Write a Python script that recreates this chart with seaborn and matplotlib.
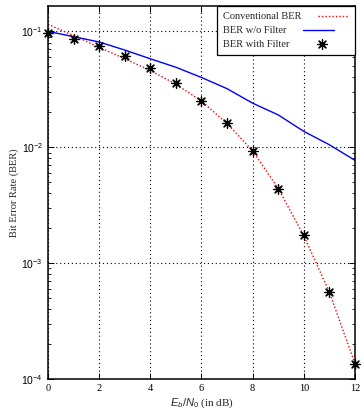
import matplotlib
matplotlib.use("Agg")
import matplotlib.pyplot as plt
import numpy as np
import pandas as pd
import seaborn as sns

ebn0_db = [0, 1, 2, 3, 4, 5, 6, 7, 8, 9, 10, 11, 12]
ber_conventional = [0.115, 0.092, 0.073, 0.058, 0.046, 0.035, 0.025,
                    0.016, 0.0093, 0.0044, 0.00172, 0.00056, 0.000135]
ber_without_filter = [0.100, 0.090, 0.081, 0.069, 0.058, 0.049, 0.040,
                      0.032, 0.024, 0.019, 0.0137, 0.0105, 0.0077]
ber_with_filter = [0.096, 0.086, 0.075, 0.061, 0.048, 0.036, 0.025,
                   0.0162, 0.0092, 0.0044, 0.00174, 0.00056, 0.000135]

df = pd.DataFrame({
    "ebn0": ebn0_db,
    "conv": ber_conventional,
    "nofilt": ber_without_filter,
    "filt": ber_with_filter,
})

sns.set_style("ticks")
plt.rcParams["font.family"] = ["Liberation Serif", "DejaVu Serif"]
plt.rcParams["mathtext.fontset"] = "custom"
plt.rcParams["mathtext.it"] = "Liberation Sans:italic"
plt.rcParams["mathtext.rm"] = "Liberation Sans"

fig = plt.figure(figsize=(3.63, 4.11), dpi=100)
ax = fig.add_axes([0.132, 0.078, 0.846, 0.907])

sns.lineplot(data=df, x="ebn0", y="conv", ax=ax, color="red",
             linestyle=(0, (1, 1.5)), linewidth=1.0, label="Conventional BER")
sns.lineplot(data=df, x="ebn0", y="nofilt", ax=ax, color="#0000ff",
             linewidth=1.0, label="BER w/o Filter")
sns.scatterplot(data=df, x="ebn0", y="filt", ax=ax, color="black",
                marker=(8, 2, 0), s=48, linewidth=0.9,
                label="BER with Filter", zorder=5, clip_on=False)

ax.set_yscale("log")
ax.set_xlim(0, 12)
ax.set_ylim(1e-4, 0.165)
ax.set_xticks([0, 2, 4, 6, 8, 10, 12])
ax.set_yticks([1e-4, 1e-3, 1e-2, 1e-1])
ax.grid(True, which="major", color="black", linestyle=(0, (1, 2.5)),
        linewidth=0.8)
ax.minorticks_on()
ax.xaxis.set_minor_locator(matplotlib.ticker.NullLocator())
ax.tick_params(which="both", direction="in", top=True, right=True,
               colors="black", labelsize=7.5)
ax.tick_params(which="major", length=4, width=0.7)
ax.tick_params(which="minor", length=2, width=0.6)
for lab in ax.get_yticklabels():
    lab.set_family("Liberation Sans")
for s in ax.spines.values():
    s.set_color("black")
    s.set_linewidth(1.1)

ax.set_xlabel(r"$E_b/N_0$ (in dB)", fontsize=8, labelpad=3)
ax.set_ylabel("Bit Error Rate (BER)", fontsize=7.5, labelpad=2)

leg = ax.legend(loc="upper right", markerfirst=False, fontsize=7.5,
                frameon=True, fancybox=False, edgecolor="black",
                framealpha=1, handlelength=3.0, handletextpad=1.6,
                borderaxespad=0, labelspacing=0.45, borderpad=0.55)
leg.get_frame().set_linewidth(0.9)
for col in leg._legend_handle_box.get_children():
    col.align = "left"

fig.savefig("out.png", dpi=100)
plt.close(fig)
